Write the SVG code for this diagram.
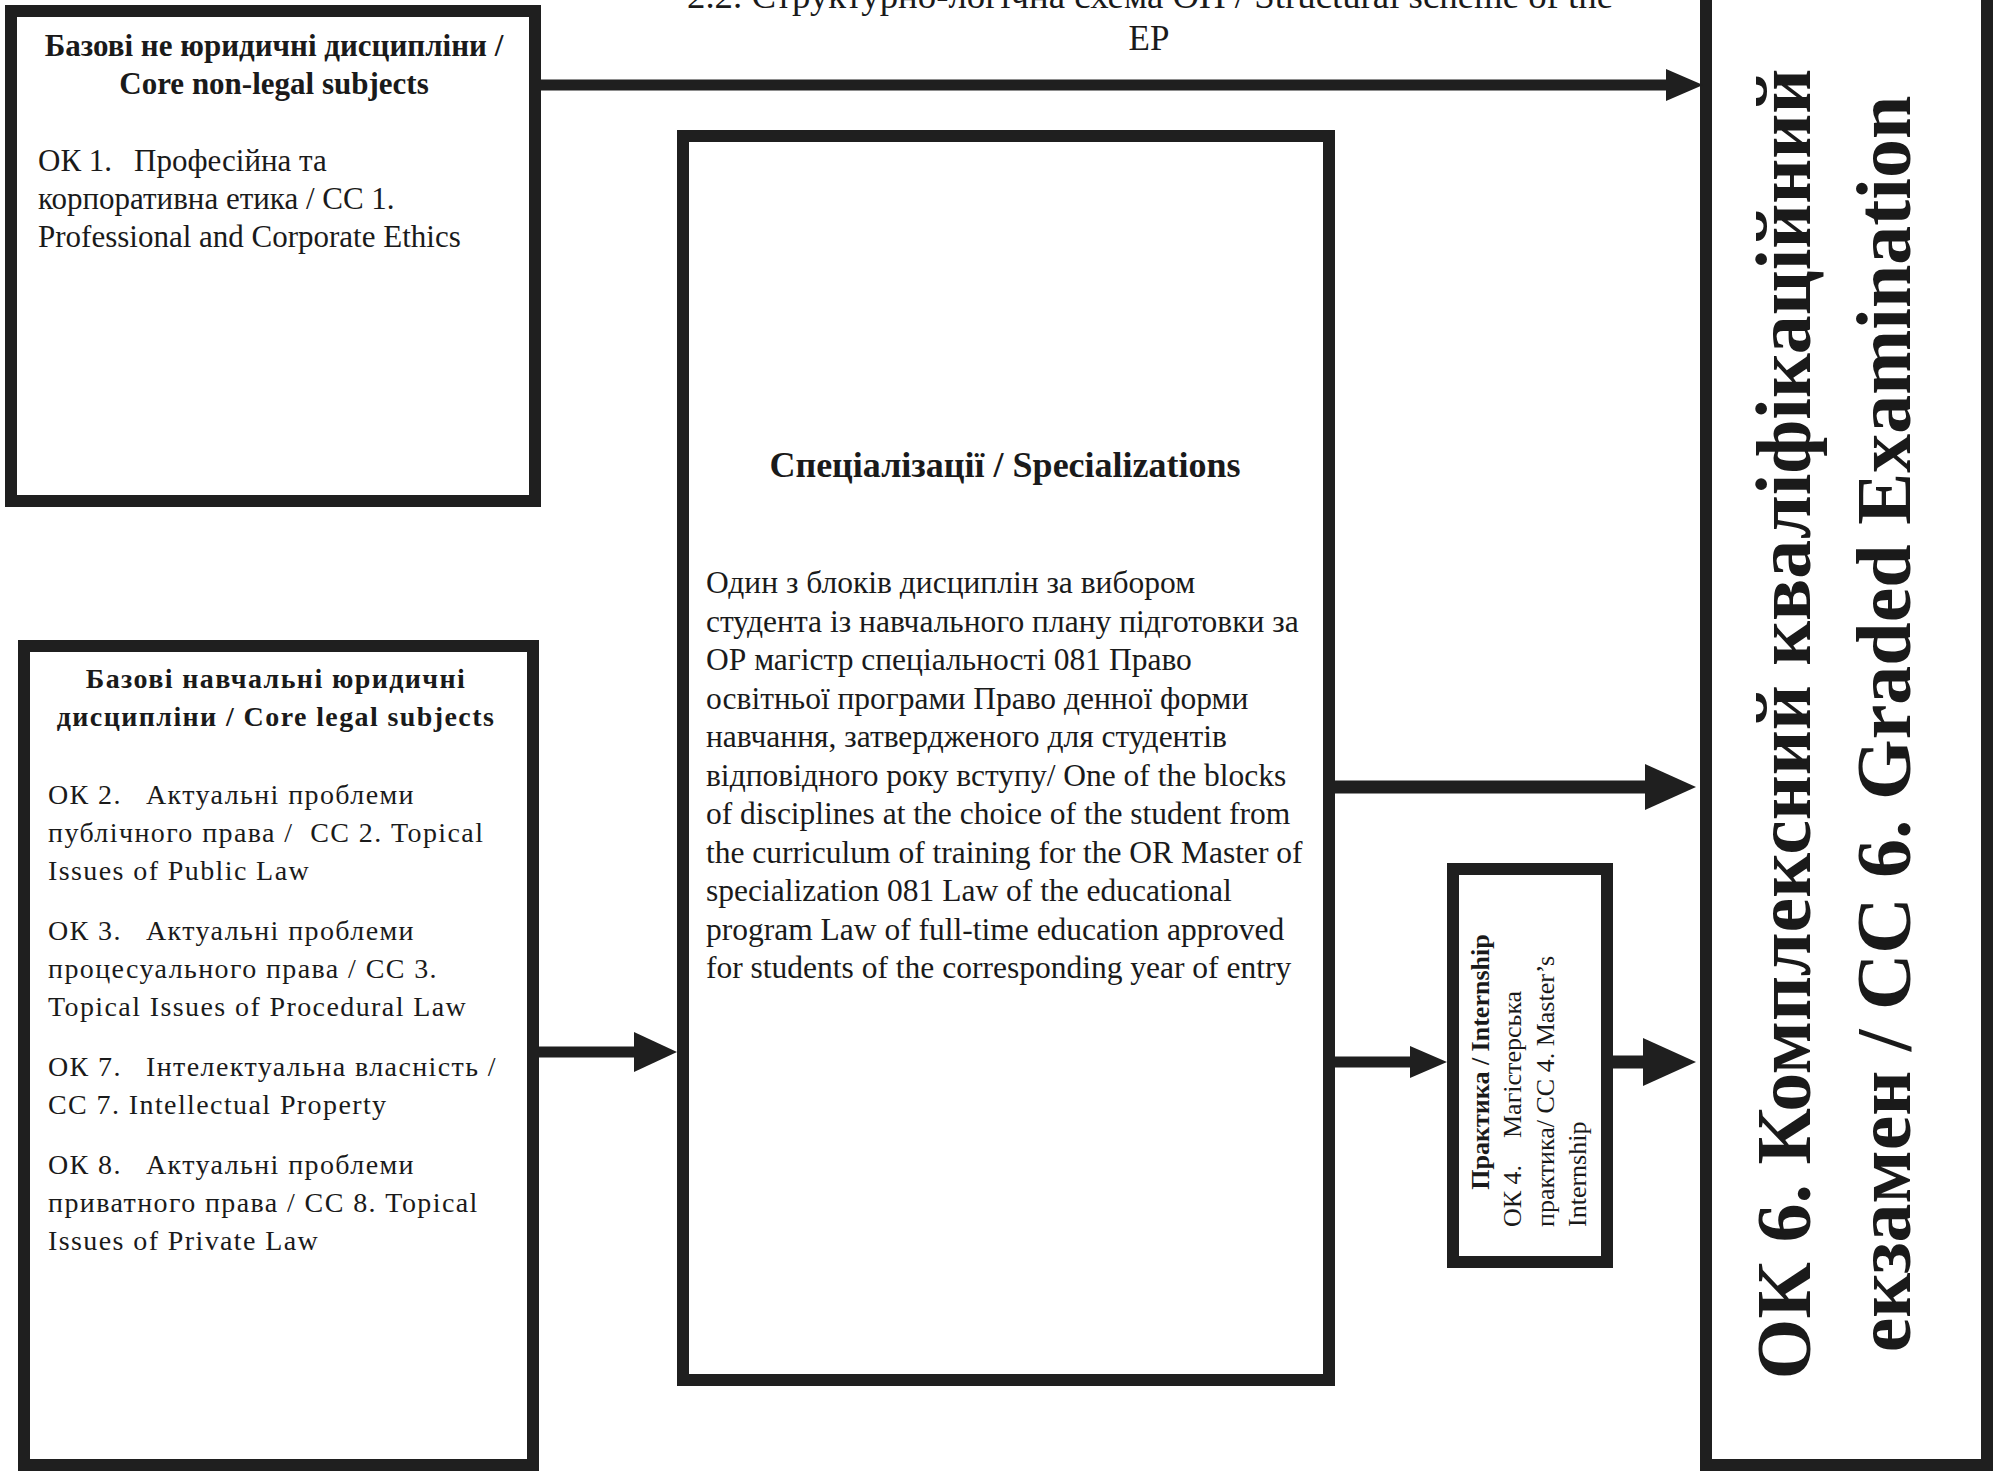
<svg xmlns="http://www.w3.org/2000/svg" width="1995" height="1471" viewBox="0 0 1995 1471">
<style>
  .box{fill:#fff;stroke:#1f1f1f;stroke-width:12}
  .t{font-family:"Liberation Serif","Times New Roman",serif;fill:#1a1a1a}
  .b{font-weight:bold}
  .r31{font-size:31px}
  .r315{font-size:31.5px}
  .bl{font-size:28px;letter-spacing:1.4px}
  .head{fill:#1f1f1f}
  .ln{stroke:#1f1f1f;fill:none}
</style>
<rect width="1995" height="1471" fill="#fff"/>

<g id="title" class="t">
  <text x="1150" y="8" font-size="35" text-anchor="middle" textLength="926" lengthAdjust="spacingAndGlyphs">2.2. Структурно-логічна схема ОП / Structural scheme of the</text>
  <text x="1149" y="50" font-size="35" text-anchor="middle">EP</text>
</g>

<g id="core-non-legal">
  <rect class="box" x="11" y="11" width="524" height="490"/>
  <g class="t r31">
    <text class="b" x="274" y="56" text-anchor="middle">Базові не юридичні дисципліни /</text>
    <text class="b" x="274" y="94" text-anchor="middle">Core non-legal subjects</text>
    <text x="38" y="171">ОК 1.<tspan x="134">Професійна та</tspan></text>
    <text x="38" y="209">корпоративна етика / СС 1.</text>
    <text x="38" y="247">Professional and Corporate Ethics</text>
  </g>
</g>

<g id="core-legal">
  <rect class="box" x="24" y="646" width="509" height="819"/>
  <g class="t bl">
    <text class="b" x="276" y="688" text-anchor="middle">Базові навчальні юридичні</text>
    <text class="b" x="276" y="726" text-anchor="middle">дисципліни / Core legal subjects</text>
    <text x="48" y="804">ОК 2.<tspan x="146">Актуальні проблеми</tspan></text>
    <text x="48" y="842">публічного права /&#160; СС 2. Topical</text>
    <text x="48" y="880">Issues of Public Law</text>
    <text x="48" y="940">ОК 3.<tspan x="146">Актуальні проблеми</tspan></text>
    <text x="48" y="978">процесуального права / СС 3.</text>
    <text x="48" y="1016">Topical Issues of Procedural Law</text>
    <text x="48" y="1076">ОК 7.<tspan x="146">Інтелектуальна власність /</tspan></text>
    <text x="48" y="1114">СС 7. Intellectual Property</text>
    <text x="48" y="1174">ОК 8.<tspan x="146">Актуальні проблеми</tspan></text>
    <text x="48" y="1212">приватного права / СС 8. Topical</text>
    <text x="48" y="1250">Issues of Private Law</text>
  </g>
</g>

<g id="specializations">
  <rect class="box" x="683" y="136" width="646" height="1244"/>
  <g class="t r315">
    <text class="b" x="1005" y="477" font-size="36" text-anchor="middle">Спеціалізації / Specializations</text>
    <text x="706" y="593">Один з блоків дисциплін за вибором</text>
    <text x="706" y="631.5">студента із навчального плану підготовки за</text>
    <text x="706" y="670">ОР магістр спеціальності 081 Право</text>
    <text x="706" y="708.5">освітньої програми Право денної форми</text>
    <text x="706" y="747">навчання, затвердженого для студентів</text>
    <text x="706" y="785.5">відповідного року вступу/ One of the blocks</text>
    <text x="706" y="824">of disciplines at the choice of the student from</text>
    <text x="706" y="862.5">the curriculum of training for the OR Master of</text>
    <text x="706" y="901">specialization 081 Law of the educational</text>
    <text x="706" y="939.5">program Law of full-time education approved</text>
    <text x="706" y="978">for students of the corresponding year of entry</text>
  </g>
</g>

<g id="internship">
  <rect class="box" x="1453" y="869" width="154" height="393"/>
  <g class="t" font-size="26">
    <text class="b" transform="translate(1489 1062) rotate(-90)" text-anchor="middle">Практика / Internship</text>
    <text transform="translate(1521 1227) rotate(-90)">ОК 4.<tspan x="89">Магістерська</tspan></text>
    <text transform="translate(1554 1227) rotate(-90)">практика/ СС 4. Master’s</text>
    <text transform="translate(1586 1227) rotate(-90)">Internship</text>
  </g>
</g>

<g id="exam">
  <rect class="box" x="1706" y="-20" width="281" height="1485"/>
  <g class="t b" font-size="78">
    <text transform="translate(1810 724) rotate(-90)" text-anchor="middle">ОК 6. Комплексний кваліфікаційний</text>
    <text transform="translate(1910 724) rotate(-90)" text-anchor="middle">екзамен / СС 6. Graded Examination</text>
  </g>
</g>

<g id="connectors">
  <line class="ln" x1="541" y1="85" x2="1670" y2="85" stroke-width="11"/>
  <polygon class="head" points="1666,69 1703,85 1666,101"/>
  <line class="ln" x1="1335" y1="787" x2="1650" y2="787" stroke-width="13"/>
  <polygon class="head" points="1645,764 1696,787 1645,810"/>
  <line class="ln" x1="1335" y1="1062" x2="1414" y2="1062" stroke-width="11"/>
  <polygon class="head" points="1410,1046 1447,1062 1410,1078"/>
  <line class="ln" x1="1613" y1="1062" x2="1648" y2="1062" stroke-width="13"/>
  <polygon class="head" points="1643,1038 1696,1062 1643,1086"/>
  <line class="ln" x1="539" y1="1052" x2="638" y2="1052" stroke-width="11"/>
  <polygon class="head" points="634,1032 677,1052 634,1072"/>
</g>
</svg>
